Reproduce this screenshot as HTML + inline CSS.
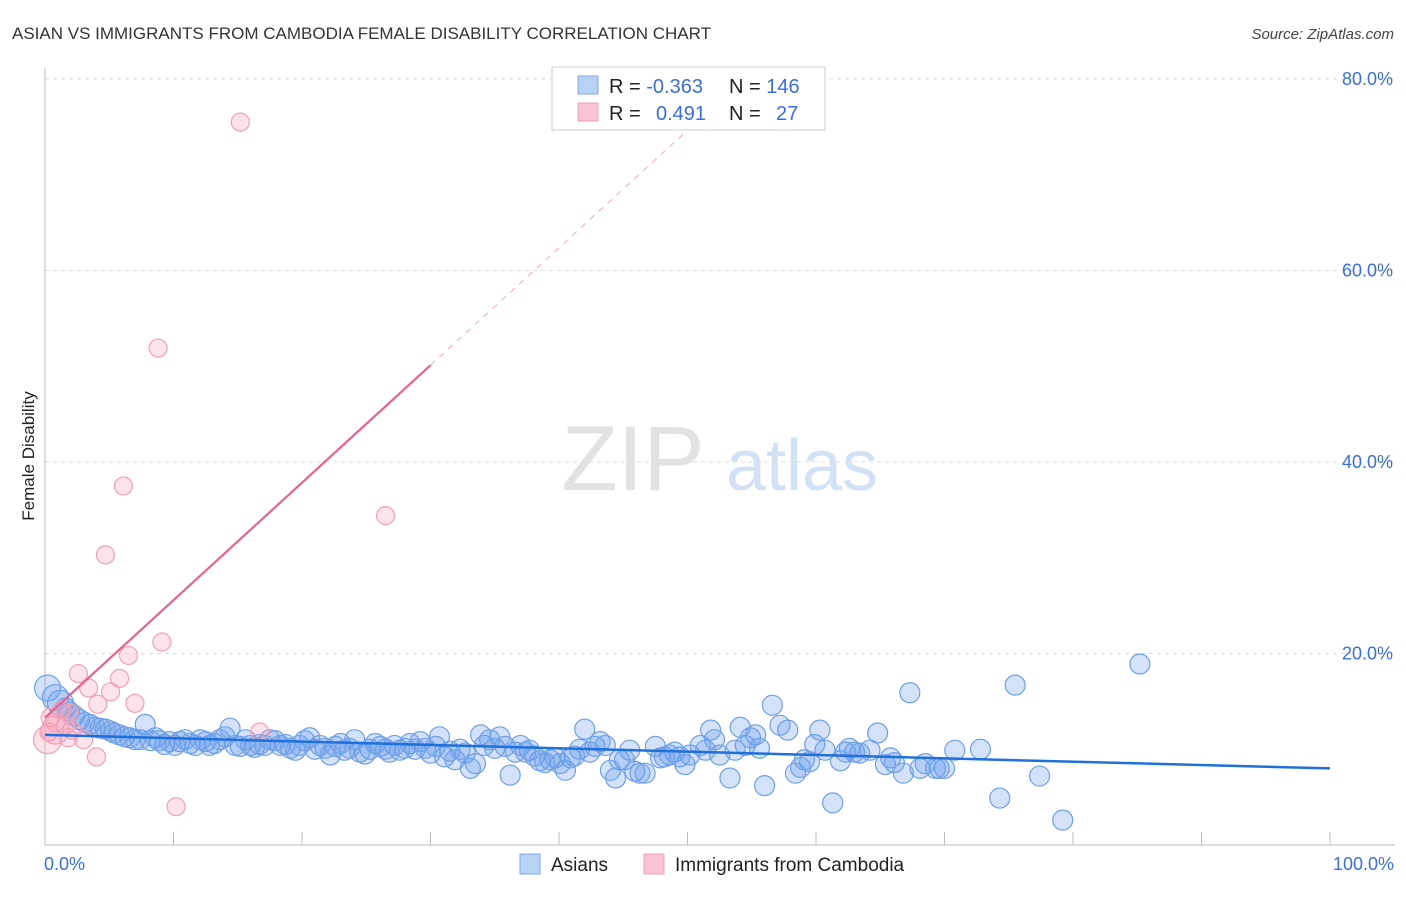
<!DOCTYPE html>
<html><head><meta charset="utf-8">
<style>
body{margin:0;background:#fff;font-family:"Liberation Sans",sans-serif;}
svg text{font-family:"Liberation Sans",sans-serif;}
</style></head>
<body>
<svg id="chart" width="1406" height="892" xmlns="http://www.w3.org/2000/svg">
<text x="12" y="39" font-size="17" fill="#333">ASIAN VS IMMIGRANTS FROM CAMBODIA FEMALE DISABILITY CORRELATION CHART</text>
<text x="1394" y="39" font-size="15" fill="#444" font-style="italic" text-anchor="end">Source: ZipAtlas.com</text>
<text x="34" y="456" font-size="17" fill="#222" text-anchor="middle" transform="rotate(-90 34 456)">Female Disability</text>
<g>
<text x="633" y="490" font-size="92" fill="#e2e2e2" font-family="Liberation Serif" text-anchor="middle">ZIP</text>
<text x="802" y="490" font-size="72" fill="#d3e1f5" text-anchor="middle">atlas</text>
</g>
<g id="grid"></g>
<g id="axes"></g>
<g id="pts"></g>
<g id="lines"></g>
<g>
<rect x="552" y="67" width="273" height="63" fill="#fff" stroke="#ccc"/>
<rect x="578" y="76" width="20" height="18" fill="#b8d2f5" stroke="#7fa8e8"/>
<rect x="578" y="103" width="20" height="18" fill="#f8c4d4" stroke="#eea0b8"/>
<text x="609" y="93" font-size="20" fill="#222">R = <tspan fill="#3a6fd8">-0.363</tspan></text>
<text x="729" y="93" font-size="20" fill="#222">N = <tspan fill="#3a6fd8">146</tspan></text>
<text x="609" y="120" font-size="20" fill="#222">R = </text>
<text x="656" y="120" font-size="20" fill="#3a6fd8">0.491</text>
<text x="729" y="120" font-size="20" fill="#222">N = </text>
<text x="776" y="120" font-size="20" fill="#3a6fd8">27</text>
</g>
<g>
<rect x="520" y="854" width="20" height="20" fill="#b8d2f5" stroke="#7fa8e8"/>
<text x="551" y="871" font-size="19" fill="#222">Asians</text>
<rect x="644" y="854" width="20" height="20" fill="#f8c4d4" stroke="#eea0b8"/>
<text x="675" y="871" font-size="19" fill="#222">Immigrants from Cambodia</text>
</g>
</svg>
<script>
const yTicks=[20,40,60,80];
const yTickLabels=["20.0%","40.0%","60.0%","80.0%"];
const xTickLabels=["0.0%","100.0%"];
const asianX=[0.2,0.8,1.2,1.6,1.9,2.3,2.7,3.1,3.5,3.9,4.3,4.7,5.1,5.4,5.8,6.2,6.6,7.0,7.4,7.8,8.2,8.6,8.9,9.3,9.7,10.1,10.5,10.9,11.3,11.7,12.1,12.5,12.8,13.2,13.6,14.0,14.4,14.8,15.2,15.6,16.0,16.3,16.7,17.1,17.5,17.9,18.3,18.7,19.1,19.5,19.8,20.2,20.6,21.0,21.4,21.8,22.2,22.6,23.0,23.3,23.7,24.1,24.5,24.9,25.3,25.7,26.1,26.5,26.8,27.2,27.6,28.0,28.4,28.8,29.2,29.6,30.0,30.4,30.7,31.1,31.5,31.9,32.3,32.7,33.1,33.5,33.9,34.2,34.6,35.0,35.4,35.8,36.2,36.6,37.0,37.4,37.7,38.1,38.5,38.9,39.3,39.7,40.1,40.5,40.9,41.2,41.6,42.0,42.4,42.8,43.2,43.6,44.0,44.4,44.7,45.1,45.5,45.9,46.3,46.7,47.5,47.9,48.2,48.6,49.0,49.4,49.8,50.2,51.0,51.4,51.8,52.1,52.5,53.3,53.7,54.1,54.5,54.9,55.3,55.6,56.0,56.6,57.2,57.8,58.4,58.8,59.1,59.5,59.9,60.3,60.7,61.3,61.9,62.3,62.6,63.0,63.4,64.2,64.8,65.4,65.8,66.1,66.8,67.3,68.1,68.5,69.3,69.6,70.0,70.8,72.8,74.3,75.5,77.4,79.2,85.2];
const asianY=[16.4,15.4,14.8,14.3,13.9,13.5,13.1,12.8,12.6,12.3,12.2,12.1,11.9,11.7,11.5,11.3,11.2,11.0,11.0,12.6,10.9,11.2,10.9,10.5,10.8,10.4,10.8,11.0,10.6,10.4,11.0,10.8,10.4,10.6,11.0,11.3,12.2,10.4,10.3,11.0,10.4,10.2,10.5,10.4,11.0,10.9,10.4,10.5,10.1,9.9,10.4,10.9,11.2,10.0,10.4,10.1,9.4,10.3,10.6,9.9,10.1,11.0,9.7,9.5,10.0,10.6,10.3,10.0,9.7,10.4,9.9,10.1,10.6,10.0,10.8,10.1,9.6,10.3,11.3,9.2,9.8,8.9,10.0,9.6,8.0,8.5,11.5,10.4,11.0,10.1,11.3,10.3,7.3,9.7,10.4,9.7,9.9,9.3,8.8,8.6,8.9,9.1,8.5,7.8,9.1,9.3,10.0,12.1,9.7,10.3,10.8,10.4,7.8,7.0,8.9,8.9,9.9,7.7,7.5,7.5,10.3,9.1,9.2,9.4,9.7,9.2,8.4,9.4,10.4,9.9,12.0,11.0,9.4,7.0,9.9,12.3,10.4,11.2,11.5,10.1,6.2,14.6,12.5,12.0,7.5,8.1,8.9,8.7,10.5,12.0,9.9,4.4,8.8,9.7,10.1,9.7,9.6,9.9,11.7,8.4,9.1,8.6,7.5,15.9,8.0,8.5,8.0,8.0,8.0,9.9,10.0,4.9,16.7,7.2,2.6,18.9];
const cambX=[15.2,8.8,6.1,26.5,4.7,9.1,6.5,2.6,5.8,3.4,5.1,7.0,4.1,1.3,1.9,0.4,0.8,1.6,0.3,2.1,3.0,1.8,4.0,10.2,16.7,0.8,0.2];
const cambY=[75.5,51.9,37.5,34.4,30.3,21.2,19.8,17.9,17.4,16.4,16.0,14.8,14.7,14.1,13.8,13.3,12.8,12.5,11.8,12.0,11.0,11.2,9.2,4.0,11.8,12.0,11.0];
const asianTrend=[11.5,8.0];
const cambTrend=[13.3,1.227];

const X0=45,X1=1330,Y0=845,YPER=9.575;
const sx=v=>X0+(X1-X0)*v/100;
const sy=v=>Y0-v*YPER;
const NS="http://www.w3.org/2000/svg";
function mk(tag,attrs,parent){const e=document.createElementNS(NS,tag);for(const k in attrs)e.setAttribute(k,attrs[k]);parent.appendChild(e);return e;}
const grid=document.getElementById('grid'),axes=document.getElementById('axes'),pts=document.getElementById('pts'),lines=document.getElementById('lines');
yTicks.forEach((t,i)=>{
 const l=mk('line',{x1:45,x2:1395,y1:sy(t),y2:sy(t),stroke:'#ddd','stroke-dasharray':'4,4'},grid);
 
 
 const tx=mk('text',{x:1393,y:sy(t)+6,'font-size':18,fill:'#3a6fd8','text-anchor':'end'},axes);
 tx.textContent=yTickLabels[i];
 
 
});
const ya=mk('line',{x1:45,x2:45,y1:68,y2:845,stroke:'#bbb'},axes);


const xa=mk('line',{x1:45,x2:1395,y1:845,y2:845,stroke:'#bbb'},axes);


for(let i=1;i<=10;i++){
 const t=mk('line',{x1:sx(i*10),x2:sx(i*10),y1:832,y2:845,stroke:'#bbb'},axes);
 
 
}
const xl0=mk('text',{x:44,y:870,'font-size':18,fill:'#3a6fd8'},axes);
xl0.textContent=xTickLabels[0];


const xl1=mk('text',{x:1394,y:870,'font-size':18,fill:'#3a6fd8','text-anchor':'end'},axes);
xl1.textContent=xTickLabels[1];



asianX.forEach((x,i)=>{
 const r=i<3?13:10;
 const c=mk('circle',{cx:sx(x),cy:sy(asianY[i]),r:r,fill:'rgba(110,160,235,0.3)',stroke:'#6f9fe6','stroke-width':1.2},pts);
 
 
});
cambX.forEach((x,i)=>{
 const r=i>=25?14:9;
 const c=mk('circle',{cx:sx(x),cy:sy(cambY[i]),r:r,fill:'rgba(245,160,185,0.3)',stroke:'#f0a0b8','stroke-width':1.2},pts);
 
 
});
const bl=mk('line',{x1:sx(0),y1:sy(asianTrend[0]),x2:sx(100),y2:sy(asianTrend[1]),stroke:'#1f6fdc','stroke-width':2.5},lines);


const pl=mk('line',{x1:sx(0),y1:sy(cambTrend[0]),x2:sx(30),y2:sy(cambTrend[0]+30*cambTrend[1]),stroke:'#e8628e','stroke-width':2.2},lines);


const pd=mk('line',{x1:sx(30),y1:sy(cambTrend[0]+30*cambTrend[1]),x2:sx(51),y2:sy(cambTrend[0]+51*cambTrend[1]),stroke:'#f0a8bf','stroke-width':1,'stroke-dasharray':'6,6'},lines);


</script>
</body></html>
